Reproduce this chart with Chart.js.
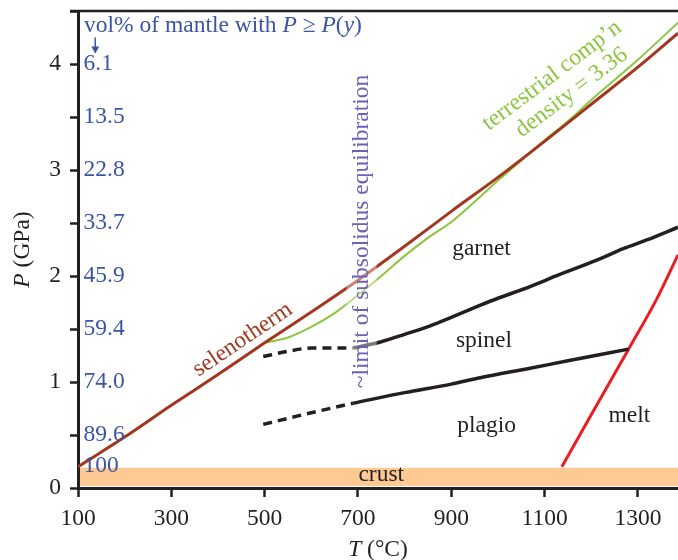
<!DOCTYPE html>
<html>
<head>
<meta charset="utf-8">
<script src="https://cdn.jsdelivr.net/npm/chart.js@4.4.1/dist/chart.umd.min.js"></script>
<style>
html,body{margin:0;padding:0;background:#fff;}
</style>
</head>
<body>
<canvas id="chart" width="678" height="560"></canvas>
<script>
// --- DATI ---
const tempTicks = [100, 300, 500, 700, 900, 1100, 1300];
const presStep = 0.5;

// selenotherm
const selenoT = [100, 200, 300, 400, 500, 600, 700, 800, 900, 1000, 1100, 1200, 1300, 1386];
const selenoP = [0.20, 0.48, 0.78, 1.07, 1.37, 1.66, 1.96, 2.28, 2.61, 2.93, 3.27, 3.62, 3.97, 4.29];

// terrestrial comp'n, density = 3.36
const terrT = [500, 550, 600, 650, 700, 750, 800, 850, 900, 950, 1000, 1050, 1100, 1150, 1200, 1250, 1300, 1386];
const terrP = [1.37, 1.42, 1.52, 1.65, 1.82, 2.00, 2.19, 2.36, 2.51, 2.70, 2.90, 3.09, 3.28, 3.46, 3.66, 3.85, 4.04, 4.39];

// garnet / spinel
const gsDashT = [497, 550, 600, 650, 690];
const gsDashP = [1.24, 1.29, 1.32, 1.32, 1.32];
const gsT = [690, 750, 800, 855, 900, 960, 1000, 1069, 1130, 1212, 1270, 1319, 1386];
const gsP = [1.32, 1.38, 1.45, 1.53, 1.61, 1.72, 1.79, 1.90, 2.01, 2.15, 2.26, 2.34, 2.46];

// spinel / plagio
const spDashT = [497, 600, 690];
const spDashP = [0.60, 0.71, 0.80];
const spT = [690, 800, 900, 962, 1069, 1150, 1280];
const spP = [0.80, 0.90, 0.98, 1.04, 1.13, 1.20, 1.31];

// melt
const meltT = [1137, 1200, 1280, 1340, 1386];
const meltP = [0.20, 0.69, 1.31, 1.78, 2.20];

// crust
const crustT = [104, 1386];
const crustTop = 0.19;
const crustBottom = 0.02;

// vol% of mantle with P >= P(y)
const volPres = [4, 3.5, 3, 2.5, 2, 1.5, 1, 0.5, 0.21];
const volPct = ['6.1', '13.5', '22.8', '33.7', '45.9', '59.4', '74.0', '89.6', '100'];

const pts = (xs, ys) => xs.map((x, i) => ({ x: x, y: ys[i] }));

const SERIF = "'Liberation Serif', 'Times New Roman', serif";
const FS = 23.5;
const INK = '#231f20';
const BLUE = '#3b55a4';
const BROWN = '#a3361f';
const GREEN = '#8cc63f';
const PURPLE = '#6b61b5';

// etichette nel grafico (coordinate in T, P)
const plainLabels = [
    { text: 'garnet', t: 902, p: 2.20 },
    { text: 'spinel', t: 910, p: 1.33 },
    { text: 'plagio', t: 913, p: 0.525 },
    { text: 'melt', t: 1237, p: 0.62 },
    { text: 'crust', t: 701, p: 0.066 }
];
const rotLabels = [
    { text: 'selenotherm', t: 453, p: 1.40, rot: -34, color: BROWN },
    { text: 'terrestrial comp\u2019n', t: 1116, p: 3.89, rot: -37, color: GREEN },
    { text: 'density = 3.36', t: 1158, p: 3.73, rot: -37, color: GREEN },
    { text: '~limit of subsolidus equilibration', t: 708, p: 2.42, rot: -90, color: PURPLE, veil: true }
];

// disegna pezzi di testo con stili diversi
function drawRuns(ctx, runs, x, y, align) {
    let total = 0;
    runs.forEach(r => { ctx.font = r[1] + ' ' + FS + 'px ' + SERIF; total += ctx.measureText(r[0]).width; });
    let cx = align === 'center' ? x - total / 2 : x;
    ctx.textAlign = 'left';
    runs.forEach(r => {
        ctx.font = r[1] + ' ' + FS + 'px ' + SERIF;
        ctx.fillText(r[0], cx, y);
        cx += ctx.measureText(r[0]).width;
    });
}

const labelPlugin = {
    id: 'labels',
    afterDatasetsDraw(chart) {
        const ctx = chart.ctx;
        const xs = chart.scales.x, ys = chart.scales.y;
        const a = chart.chartArea;
        ctx.save();

        // bordo superiore
        ctx.strokeStyle = INK;
        ctx.lineWidth = 2.5;
        ctx.beginPath();
        ctx.moveTo(a.left - 8, a.top);
        ctx.lineTo(a.right, a.top);
        ctx.stroke();

        ctx.font = FS + 'px ' + SERIF;
        ctx.fillStyle = INK;
        ctx.textBaseline = 'alphabetic';
        ctx.textAlign = 'left';
        plainLabels.forEach(l => ctx.fillText(l.text, xs.getPixelForValue(l.t), ys.getPixelForValue(l.p)));

        rotLabels.forEach(l => {
            ctx.save();
            ctx.translate(xs.getPixelForValue(l.t), ys.getPixelForValue(l.p));
            ctx.rotate(l.rot * Math.PI / 180);
            ctx.font = FS + 'px ' + SERIF;
            const w = ctx.measureText(l.text).width;
            if (l.veil) {
                ctx.fillStyle = 'rgba(255,255,255,0.4)';
                ctx.fillRect(-w / 2, -15, w, 30);
            }
            ctx.fillStyle = l.color;
            ctx.textAlign = 'center';
            ctx.textBaseline = 'middle';
            ctx.fillText(l.text, 0, 0);
            ctx.restore();
        });

        // colonna vol%
        ctx.fillStyle = BLUE;
        ctx.textBaseline = 'middle';
        ctx.textAlign = 'left';
        ctx.font = FS + 'px ' + SERIF;
        volPres.forEach((p, i) => ctx.fillText(volPct[i], xs.getPixelForValue(112), ys.getPixelForValue(p)));

        ctx.textBaseline = 'alphabetic';
        drawRuns(ctx, [['vol% of mantle with ', ''], ['P', 'italic'], [' \u2265 ', ''], ['P', 'italic'], ['(', ''], ['y', 'italic'], [')', '']],
            xs.getPixelForValue(113), ys.getPixelForValue(4.30), 'left');

        // freccia
        const ax = xs.getPixelForValue(137);
        const ay1 = ys.getPixelForValue(4.25), ay2 = ys.getPixelForValue(4.10);
        ctx.strokeStyle = BLUE;
        ctx.lineWidth = 1.5;
        ctx.beginPath();
        ctx.moveTo(ax, ay1);
        ctx.lineTo(ax, ay2 - 6);
        ctx.stroke();
        ctx.beginPath();
        ctx.moveTo(ax - 4, ay2 - 7);
        ctx.lineTo(ax + 4, ay2 - 7);
        ctx.lineTo(ax, ay2);
        ctx.closePath();
        ctx.fill();

        // titoli assi
        ctx.fillStyle = INK;
        drawRuns(ctx, [['T', 'italic'], [' (\u00b0C)', '']], (a.left + a.right) / 2, 556, 'center');
        ctx.save();
        ctx.translate(29, (a.top + a.bottom) / 2);
        ctx.rotate(-Math.PI / 2);
        drawRuns(ctx, [['P', 'italic'], [' (GPa)', '']], 0, 0, 'center');
        ctx.restore();

        ctx.restore();
    }
};

const lineDs = (data, color, width, dash) => ({
    data: data,
    showLine: true,
    borderColor: color,
    borderWidth: width,
    borderDash: dash || [],
    pointRadius: 0,
    fill: false,
    cubicInterpolationMode: 'monotone'
});

new Chart(document.getElementById('chart'), {
    type: 'scatter',
    data: {
        datasets: [
            lineDs(pts(selenoT, selenoP), BROWN, 3),
            lineDs(pts(terrT, terrP), GREEN, 2),
            lineDs(pts(gsDashT, gsDashP), INK, 3.5, [9, 6]),
            lineDs(pts(gsT, gsP), INK, 3.5),
            lineDs(pts(spDashT, spDashP), INK, 3.5, [9, 6]),
            lineDs(pts(spT, spP), INK, 3.5),
            lineDs(pts(meltT, meltP), '#ed1c24', 3),
            {
                data: crustT.map(t => ({ x: t, y: crustTop })),
                showLine: true,
                borderWidth: 0,
                borderColor: 'rgba(0,0,0,0)',
                pointRadius: 0,
                backgroundColor: '#fdca94',
                fill: { value: crustBottom }
            }
        ]
    },
    options: {
        responsive: false,
        animation: false,
        devicePixelRatio: 1,
        layout: { padding: { top: 11, right: 0, left: 0, bottom: 0 } },
        plugins: { legend: { display: false }, tooltip: { enabled: false } },
        scales: {
            x: {
                type: 'linear',
                min: 100,
                max: 1386,
                afterBuildTicks: s => { s.ticks = tempTicks.map(v => ({ value: v })); },
                afterFit: s => { s.height = 72; s.paddingLeft = 0; s.paddingRight = 0; },
                border: { color: INK, width: 3 },
                grid: { drawOnChartArea: false, tickLength: 9, tickWidth: 2.5, tickColor: INK },
                ticks: {
                    color: INK,
                    font: { family: SERIF, size: FS },
                    padding: 8,
                    maxRotation: 0,
                    callback: v => String(v)
                }
            },
            y: {
                type: 'linear',
                min: 0,
                max: 4.5,
                afterFit: s => { s.width = 78; s.paddingTop = 0; s.paddingBottom = 0; },
                border: { color: INK, width: 3 },
                grid: { drawOnChartArea: false, tickLength: 8, tickWidth: 2.5, tickColor: INK },
                ticks: {
                    stepSize: presStep,
                    color: INK,
                    font: { family: SERIF, size: FS },
                    padding: 9,
                    callback: v => Number.isInteger(v) ? String(v) : ''
                }
            }
        }
    },
    plugins: [labelPlugin]
});
</script>
</body>
</html>
